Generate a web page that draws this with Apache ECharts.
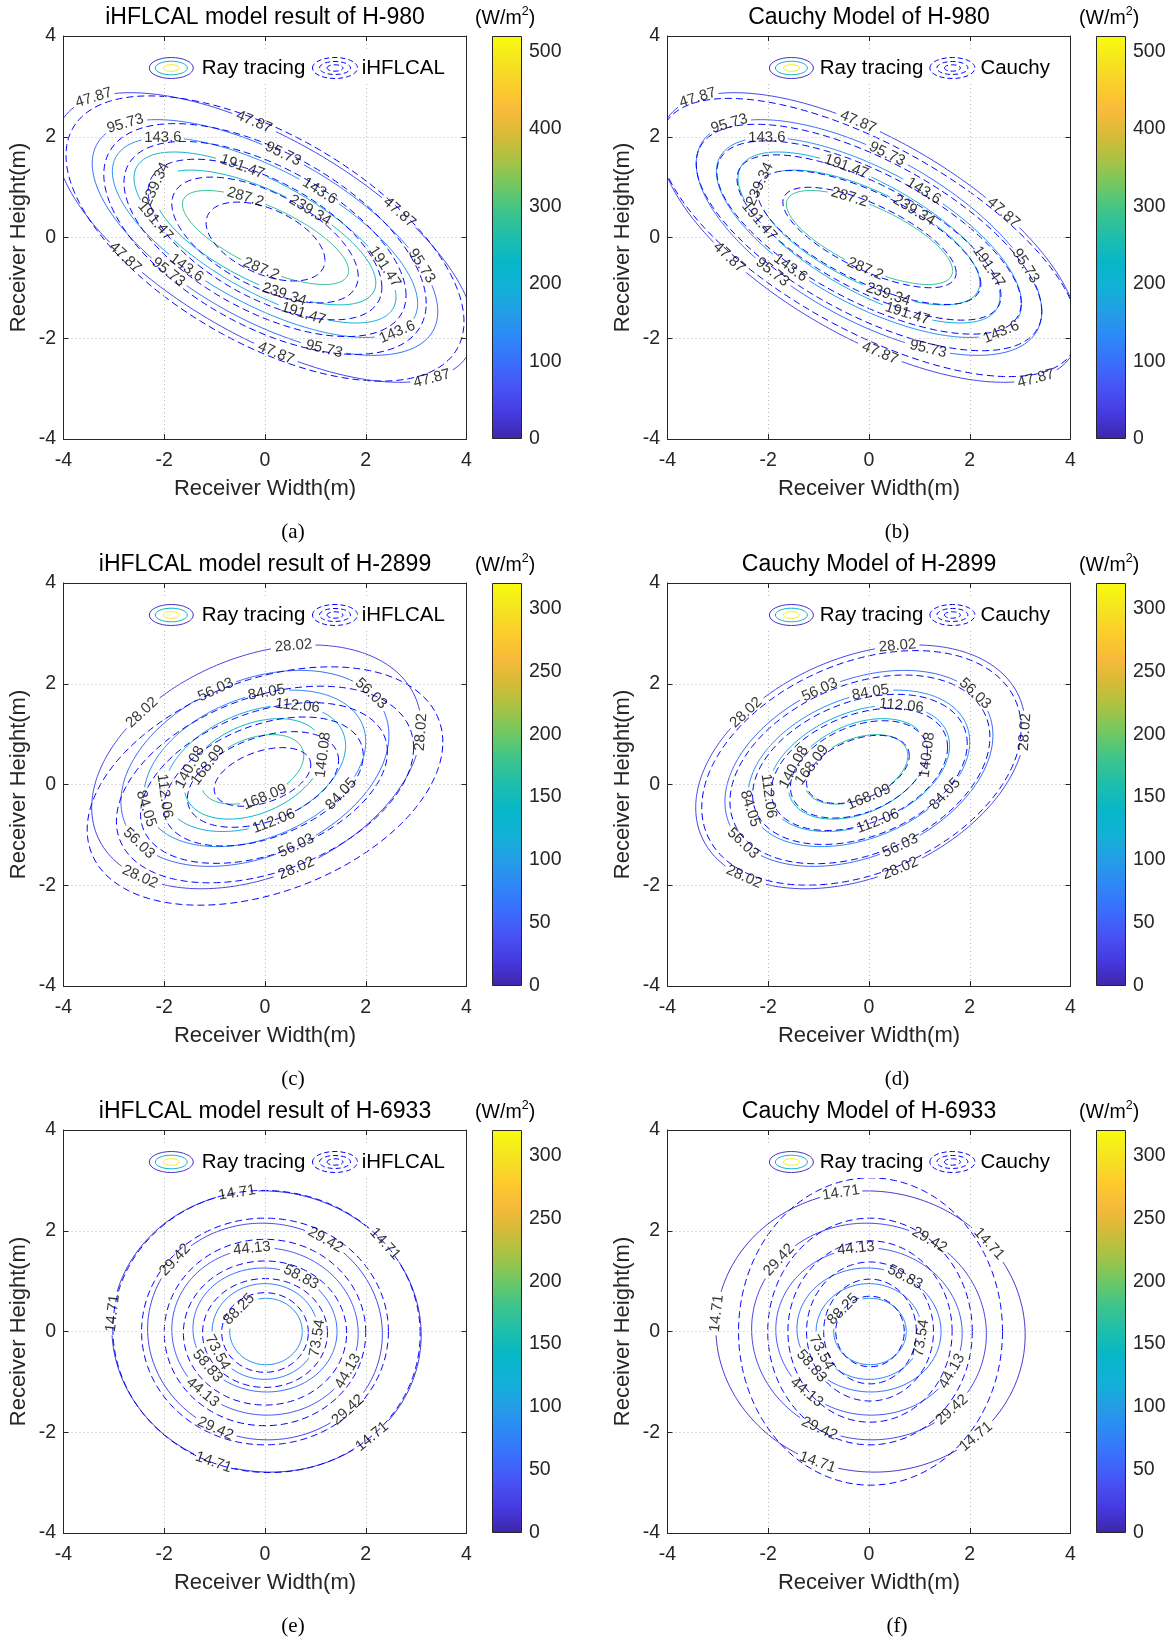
<!DOCTYPE html>
<html><head><meta charset="utf-8">
<script src="https://cdn.jsdelivr.net/npm/echarts@6/dist/echarts.min.js"></script>
<style>html,body{margin:0;padding:0;background:#fff}#c{width:1171px;height:1642px}</style>
</head><body><div id="c"></div><script>
// ---------------- data ----------------
const levels980  = [47.87, 95.73, 143.6, 191.47, 239.34, 287.2];
const levels2899 = [28.02, 56.03, 84.05, 112.06, 140.08, 168.09];
const levels6933 = [14.71, 29.42, 44.13, 58.83, 73.54, 88.25];

// contour rows: [centreX, centreY, halfWidth, y-offset of rightmost point, half-height on centre vertical]
const ray980 = [
  [0.00, 0.00, 4.15, -1.85, 2.20],
  [0.00, 0.00, 3.43, -1.47, 1.82],
  [0.00, 0.00, 3.03, -1.31, 1.49],
  [0.00, 0.00, 2.60, -1.18, 1.22],
  [0.00, 0.00, 2.20, -0.90, 0.99],
  [0.01, 0.00, 1.65, -0.66, 0.66]
];
const ihflcal980 = [
  [0.00, -0.02, 3.95, -1.65, 2.30],
  [0.00, -0.03, 3.20, -1.28, 1.90],
  [0.00, -0.03, 2.80, -1.12, 1.58],
  [0.00, -0.04, 2.32, -0.95, 1.28],
  [0.00, -0.05, 1.85, -0.72, 1.02],
  [0.01, -0.08, 1.18, -0.37, 0.69]
];
const cauchy980 = [
  [0.00, 0.00, 4.15, -1.85, 2.05],
  [0.00, 0.00, 3.43, -1.47, 1.70],
  [0.00, 0.00, 3.02, -1.30, 1.41],
  [0.00, 0.00, 2.62, -1.16, 1.16],
  [0.00, 0.00, 2.22, -0.92, 0.96],
  [0.01, 0.00, 1.72, -0.70, 0.71]
];
const ray2899 = [
  [-0.17, 0.35, 3.27, 0.81, 2.28],
  [-0.20, 0.32, 2.66, 0.66, 1.83],
  [-0.20, 0.32, 2.20, 0.53, 1.46],
  [-0.20, 0.32, 1.80, 0.45, 1.17],
  [-0.22, 0.31, 1.38, 0.36, 0.93],
  [-0.25, 0.30, 1.02, 0.27, 0.635]
];
const ihflcal2899 = [
  [ 0.00, -0.03, 3.53, 0.87, 2.20],
  [ 0.00,  0.00, 2.95, 0.73, 1.81],
  [-0.02,  0.03, 2.45, 0.62, 1.47],
  [-0.03,  0.06, 1.98, 0.52, 1.17],
  [-0.04,  0.10, 1.50, 0.38, 0.87],
  [-0.05,  0.15, 0.96, 0.24, 0.53]
];
const cauchy2899 = [
  [-0.15, 0.33, 3.17, 0.79, 2.19],
  [-0.18, 0.30, 2.58, 0.64, 1.76],
  [-0.18, 0.30, 2.13, 0.51, 1.40],
  [-0.19, 0.30, 1.75, 0.44, 1.13],
  [-0.20, 0.30, 1.36, 0.35, 0.90],
  [-0.22, 0.30, 1.02, 0.27, 0.62]
];
const ray6933 = [
  [0.03,  0.00, 3.07, -0.07, 2.79],
  [0.00,  0.00, 2.33, -0.05, 2.15],
  [0.00,  0.00, 1.85, -0.04, 1.66],
  [0.00,  0.03, 1.43, -0.03, 1.23],
  [0.00,  0.00, 1.05,  0.00, 0.95],
  [0.02,  0.00, 0.72,  0.00, 0.66]
];
const ihflcal6933 = [
  [0.03,  0.00, 3.05, -0.05, 2.80],
  [0.00,  0.00, 2.45,  0.00, 2.25],
  [0.00, -0.02, 2.00,  0.00, 1.85],
  [0.00, -0.03, 1.62,  0.00, 1.43],
  [0.00, -0.03, 1.24,  0.00, 1.08],
  [0.00, -0.02, 0.86,  0.00, 0.79]
];
const cauchy6933 = [
  [0.03, 0.00, 2.62, 0.00, 3.05],
  [0.02, 0.00, 2.03, 0.00, 2.25],
  [0.02, 0.00, 1.63, 0.00, 1.80],
  [0.02, 0.00, 1.26, 0.00, 1.38],
  [0.02, 0.00, 0.92, 0.00, 1.04],
  [0.02, 0.00, 0.68, 0.00, 0.70]
];

// contour label placements: [level index, angle along the contour in degrees]
const labels980 = [[0,145],[0,93],[0,50],[0,228],[0,273],[0,323],[1,144],[1,84],[1,25],[1,236],[1,290],
  [2,132],[2,69],[2,239],[2,330],[3,100],[3,213],[3,24],[3,287],[4,170],[4,66],[4,280],[5,104],[5,267]];
const labels2899 = [[0,77],[0,134],[0,357],[0,225],[0,284],[1,107],[1,30],[1,210],[1,288],[2,84],[2,191],[2,321],
  [3,62],[3,185],[3,282],[4,157],[4,355],[5,150],[5,284]];
const labels6933 = [[0,101],[0,174],[0,40],[0,250],[0,313],[1,140],[1,59],[1,245],[1,315],[2,98],[2,228],[2,333],
  [3,60],[3,217],[4,206],[4,352],[5,138]];

const axisTickValues = [-4, -2, 0, 2, 4];
const cbTicks980 = [0, 100, 200, 300, 400, 500];
const cbTicks2899 = [0, 50, 100, 150, 200, 250, 300];
const cbTicks6933 = [0, 50, 100, 150, 200, 250, 300];
const cbMax980 = 520, cbMax2899 = 320, cbMax6933 = 320;

const parulaStops = [
  [0.0,[62,38,168]],[0.0625,[69,58,224]],[0.125,[72,82,244]],[0.1875,[58,110,252]],[0.25,[46,135,247]],
  [0.3125,[35,157,230]],[0.375,[18,177,214]],[0.4375,[6,183,200]],[0.5,[30,190,172]],[0.5625,[60,196,140]],
  [0.625,[110,200,100]],[0.6875,[165,195,70]],[0.75,[212,187,55]],[0.8125,[248,186,58]],[0.875,[252,205,44]],
  [0.9375,[244,229,32]],[1.0,[249,251,14]]
];

// ---------------- layout ----------------
const FONT = 'Liberation Sans, Arial, sans-serif';
const COLX = [63.5, 667.5], ROWY = [36, 583, 1130], BOX = 403;
const CB_DX = 428.5, CB_W = 30;
const S = BOX / 8;
const INK = '#262626';

function parula(v) {
  v = Math.max(0, Math.min(1, v));
  for (let i = 1; i < parulaStops.length; i++) {
    const [t1, c1] = parulaStops[i];
    const [t0, c0] = parulaStops[i - 1];
    if (v <= t1) {
      const f = (v - t0) / (t1 - t0);
      const c = c0.map((a, k) => Math.round(a + (c1[k] - a) * f));
      return 'rgb(' + c.join(',') + ')';
    }
  }
  return 'rgb(249,251,14)';
}

function ellPoint(e, tDeg) {
  const [cx, cy, hw, ym, y0] = e;
  const t = tDeg * Math.PI / 180;
  return [cx + hw * Math.cos(t), cy + ym * Math.cos(t) + y0 * Math.sin(t)];
}
function ellTangentDeg(e, tDeg) {
  const [cx, cy, hw, ym, y0] = e;
  const t = tDeg * Math.PI / 180;
  const dx = -hw * Math.sin(t), dy = -ym * Math.sin(t) + y0 * Math.cos(t);
  let a = Math.atan2(dy, dx) * 180 / Math.PI;
  if (a > 90) a -= 180;
  if (a < -90) a += 180;
  return a;
}
const LABEL_FS = 15;
function textWidth(s) {
  let w = 0;
  for (const ch of s) w += (ch === '.') ? 0.278 : 0.556;
  return w * LABEL_FS;
}

function curve(e, gaps) {
  const pts = [];
  for (let i = 0; i <= 360; i++) {
    const p = ellPoint(e, i);
    let hide = false;
    for (const g of gaps) {
      const d = S * Math.hypot(p[0] - g.x, p[1] - g.y);
      if (d < g.r) { hide = true; break; }
    }
    if (hide) {
      if (pts.length && pts[pts.length - 1][0] !== '-') pts.push(['-', '-']);
    } else pts.push(p);
  }
  return pts;
}

const panels = [
  {title: 'iHFLCAL model result of H-980', levels: levels980, ray: ray980, model: ihflcal980, labels: labels980, name: 'iHFLCAL', cmax: cbMax980, cbTicks: cbTicks980, sub: '(a)'},
  {title: 'Cauchy Model of H-980', levels: levels980, ray: ray980, model: cauchy980, labels: labels980, name: 'Cauchy', cmax: cbMax980, cbTicks: cbTicks980, sub: '(b)'},
  {title: 'iHFLCAL model result of H-2899', levels: levels2899, ray: ray2899, model: ihflcal2899, labels: labels2899, name: 'iHFLCAL', cmax: cbMax2899, cbTicks: cbTicks2899, sub: '(c)'},
  {title: 'Cauchy Model of H-2899', levels: levels2899, ray: ray2899, model: cauchy2899, labels: labels2899, name: 'Cauchy', cmax: cbMax2899, cbTicks: cbTicks2899, sub: '(d)'},
  {title: 'iHFLCAL model result of H-6933', levels: levels6933, ray: ray6933, model: ihflcal6933, labels: labels6933, name: 'iHFLCAL', cmax: cbMax6933, cbTicks: cbTicks6933, sub: '(e)'},
  {title: 'Cauchy Model of H-6933', levels: levels6933, ray: ray6933, model: cauchy6933, labels: labels6933, name: 'Cauchy', cmax: cbMax6933, cbTicks: cbTicks6933, sub: '(f)'}
];

const legendLayout = {
  iHFLCAL: {icon1: 107.8, text1: 138.2, icon2: 271.5, text2: 298.2, right: 381.5},
  Cauchy:  {icon1: 123.9, text1: 152.2, icon2: 284.9, text2: 312.9, right: 381.5}
};

const grid = [], xAxis = [], yAxis = [], series = [], graphic = [];
const tickLine = {lineStyle: {color: INK, width: 1}};

const txt = (x, y, text, size, fill, family, align) => ({
  type: 'text', x: x, y: y, z: 100,
  style: {text: text, fontSize: size, fontFamily: family || FONT, fill: fill || '#000',
    align: align || 'center', verticalAlign: 'middle', textAlign: align || 'center', textVerticalAlign: 'middle'}
});

panels.forEach((p, i) => {
  const col = i % 2, row = Math.floor(i / 2);
  const L = COLX[col], T = ROWY[row];
  const gi = grid.length;
  grid.push({left: L, top: T, width: BOX, height: BOX});
  grid.push({left: L + CB_DX, top: T, width: CB_W, height: BOX});
  const ax = xAxis.length, ay = yAxis.length;
  const step = axisTickValues[1] - axisTickValues[0];
  const base = {type: 'value', min: axisTickValues[0], max: axisTickValues[axisTickValues.length - 1], interval: step, z: 3};
  xAxis.push(Object.assign({}, base, {
    gridIndex: gi, position: 'bottom',
    axisLine: {show: true, onZero: false, lineStyle: {color: INK, width: 1}},
    axisTick: Object.assign({inside: true, length: 5}, tickLine),
    axisLabel: {fontSize: 19.5, color: INK, margin: 11.5, showMinLabel: true, showMaxLabel: true, fontFamily: FONT},
    splitLine: {show: true, lineStyle: {type: [1, 3], color: '#b8b8b8', width: 1}},
    name: 'Receiver Width(m)', nameLocation: 'middle', nameGap: 39,
    nameTextStyle: {fontSize: 22, color: INK, fontFamily: FONT}
  }));
  xAxis.push(Object.assign({}, base, {
    gridIndex: gi, position: 'top',
    axisLine: {show: true, onZero: false, lineStyle: {color: INK, width: 1}},
    axisTick: Object.assign({inside: true, length: 5}, tickLine),
    axisLabel: {show: false}, splitLine: {show: false}
  }));
  xAxis.push({type: 'category', gridIndex: gi + 1, data: ['c'], show: false});
  yAxis.push(Object.assign({}, base, {
    gridIndex: gi, position: 'left',
    axisLine: {show: true, onZero: false, lineStyle: {color: INK, width: 1}},
    axisTick: Object.assign({inside: true, length: 5}, tickLine),
    axisLabel: {fontSize: 19.5, color: INK, margin: 7.5, showMinLabel: true, showMaxLabel: true, fontFamily: FONT},
    splitLine: {show: true, lineStyle: {type: [1, 3], color: '#b8b8b8', width: 1}},
    name: 'Receiver Height(m)', nameLocation: 'middle', nameGap: 33.5,
    nameTextStyle: {fontSize: 22, color: INK, fontFamily: FONT}
  }));
  yAxis.push(Object.assign({}, base, {
    gridIndex: gi, position: 'right',
    axisLine: {show: true, onZero: false, lineStyle: {color: INK, width: 1}},
    axisTick: Object.assign({inside: true, length: 5}, tickLine),
    axisLabel: {show: false}, splitLine: {show: false}
  }));
  const cbStep = p.cbTicks[1] - p.cbTicks[0];
  yAxis.push({
    type: 'value', gridIndex: gi + 1, min: 0, max: p.cmax, interval: cbStep, position: 'right', z: 5,
    axisLine: {show: false},
    axisTick: Object.assign({inside: true, length: 4}, tickLine),
    axisLabel: {fontSize: 19.5, color: INK, margin: 7, fontFamily: FONT,
      formatter: v => p.cbTicks.indexOf(v) >= 0 ? String(v) : ''},
    splitLine: {show: false}
  });

  // colour bar
  const stops = parulaStops.map(s => ({offset: s[0], color: 'rgb(' + s[1].join(',') + ')'}));
  series.push({
    type: 'bar', xAxisIndex: ax + 2, yAxisIndex: ay + 2, data: [p.cmax], barWidth: '100%', silent: true,
    itemStyle: {color: new echarts.graphic.LinearGradient(0, 1, 0, 0, stops), borderColor: INK, borderWidth: 1}
  });

  // labels positions & gaps
  const labelData = [];
  const gapsByLevel = p.levels.map(() => []);
  p.labels.forEach(([lv, t]) => {
    const e = p.ray[lv];
    const pt = ellPoint(e, t);
    const s = String(p.levels[lv]);
    gapsByLevel[lv].push({x: pt[0], y: pt[1], r: textWidth(s) / 2 + 2.5});
    labelData.push({name: s, value: pt, label: {rotate: ellTangentDeg(e, t)}});
  });

  // ray tracing (solid) contours
  p.levels.forEach((lvl, k) => {
    series.push({
      type: 'line', xAxisIndex: ax, yAxisIndex: ay, data: curve(p.ray[k], gapsByLevel[k]),
      showSymbol: false, symbol: 'none', silent: true, clip: true, z: 2,
      lineStyle: {color: parula(lvl / p.cmax), width: 1, type: 'solid'}
    });
  });
  // model (dashed) contours
  p.levels.forEach((lvl, k) => {
    series.push({
      type: 'line', xAxisIndex: ax, yAxisIndex: ay, data: curve(p.model[k], []),
      showSymbol: false, symbol: 'none', silent: true, clip: true, z: 2,
      lineStyle: {color: '#0000ff', width: 1, type: [7, 4]}
    });
  });
  // contour labels
  series.push({
    type: 'scatter', xAxisIndex: ax, yAxisIndex: ay, symbolSize: 1, silent: true, z: 4,
    itemStyle: {color: 'rgba(0,0,0,0)'},
    label: {show: true, position: 'inside', formatter: '{b}', fontSize: LABEL_FS, color: '#000', fontFamily: FONT},
    data: labelData
  });

  // title, unit, sub caption
  graphic.push(txt(L + BOX / 2, T - 18, p.title, 23, '#000'));
  const ux = L + 411.6;
  graphic.push(txt(ux, T - 17, '(W/m', 19.5, '#000', FONT, 'left'));
  graphic.push(txt(ux + 46.6, T - 24, '2', 12.5, '#000', FONT, 'left'));
  graphic.push(txt(ux + 53.6, T - 17, ')', 19.5, '#000', FONT, 'left'));
  graphic.push(txt(L + 229.5, T + 496, p.sub, 21, '#000', 'Liberation Serif, DejaVu Serif, serif'));

  // legend
  const lg = legendLayout[p.name];
  const ly = T + 32;
  graphic.push({type: 'rect', z: 99, shape: {x: L + lg.icon1 - 26, y: ly - 16, width: lg.right - lg.icon1 + 29, height: 32}, style: {fill: '#fff'}});
  const solidRings = [[22, 10.5, parula(0.04)], [16, 6.8, parula(0.42)], [8, 3.3, parula(0.96)]];
  solidRings.forEach(([rx, ry, c]) => graphic.push({type: 'ellipse', z: 100,
    shape: {cx: L + lg.icon1, cy: ly, rx: rx, ry: ry}, style: {fill: 'none', stroke: c, lineWidth: 1}}));
  [[22.5, 10.5], [15.5, 6.5], [8, 3.2]].forEach(([rx, ry]) => graphic.push({type: 'ellipse', z: 100,
    shape: {cx: L + lg.icon2, cy: ly, rx: rx, ry: ry}, style: {fill: 'none', stroke: '#0000ff', lineWidth: 1, lineDash: [5, 3]}}));
  graphic.push(txt(L + lg.text1, ly, 'Ray tracing', 20.5, '#000', FONT, 'left'));
  graphic.push(txt(L + lg.text2, ly, p.name, 20.5, '#000', FONT, 'left'));
});

const chart = echarts.init(document.getElementById('c'), null, {renderer: 'canvas', width: 1171, height: 1642});
chart.setOption({
  animation: false,
  backgroundColor: '#fff',
  textStyle: {fontFamily: FONT},
  grid: grid, xAxis: xAxis, yAxis: yAxis, series: series,
  graphic: {elements: graphic}
});
</script></body></html>
